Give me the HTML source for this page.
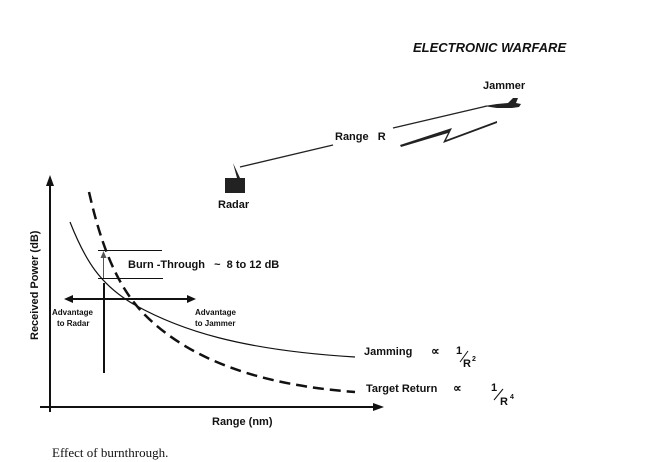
<!DOCTYPE html>
<html><head><style>
body{margin:0;background:#fff;width:645px;height:462px;overflow:hidden}
svg{position:absolute;left:0;top:0}
text{font-family:"Liberation Sans",sans-serif;font-weight:bold;fill:#111;white-space:pre}
</style></head><body>
<svg width="645" height="462" viewBox="0 0 645 462" xml:space="preserve">
<text x="413" y="52" font-size="13" font-style="italic">ELECTRONIC WARFARE</text>
<text x="483" y="89" font-size="11">Jammer</text>
<text x="335" y="140" font-size="11">Range   R</text>
<text x="218" y="208" font-size="11">Radar</text>
<rect x="225" y="178" width="20" height="15" fill="#222"/>
<polygon points="233,163 237,178 240,178" fill="#222"/>
<line x1="240" y1="167" x2="333" y2="145" stroke="#222" stroke-width="1.3"/>
<line x1="393" y1="128" x2="487" y2="106" stroke="#222" stroke-width="1.3"/>
<polygon points="484,106 497,104 508,103 513,98 518,98 516,103 521,104 519,107 512,108 497,108 490,107" fill="#222"/>
<polygon points="400,145 452,128 446,140 497,121 497,123 443,143 448,133 401,147" fill="#222"/>
<line x1="50" y1="412" x2="50" y2="182" stroke="#111" stroke-width="2"/>
<polygon points="50,175 46,186 54,186" fill="#111"/>
<line x1="40" y1="407" x2="376" y2="407" stroke="#111" stroke-width="2"/>
<polygon points="384,407 373,403 373,411" fill="#111"/>
<text x="0" y="0" font-size="11" transform="translate(38,340) rotate(-90)">Received Power (dB)</text>
<text x="212" y="425" font-size="11">Range (nm)</text>
<path d="M70,222 C85,260 100,285 135,305 C180,330 240,350 355,357" fill="none" stroke="#111" stroke-width="1.2"/>
<path d="M89,192 C100,240 115,285 145,315 C190,360 260,385 355,392" fill="none" stroke="#111" stroke-width="2.5" stroke-dasharray="11,6"/>
<line x1="98" y1="250.5" x2="162" y2="250.5" stroke="#111" stroke-width="1"/>
<line x1="98" y1="278.5" x2="163" y2="278.5" stroke="#111" stroke-width="1"/>
<line x1="103.5" y1="278" x2="103.5" y2="255" stroke="#555" stroke-width="1"/>
<polygon points="103.5,251 100.5,258 106.5,258" fill="#555"/>
<line x1="104" y1="283" x2="104" y2="373" stroke="#111" stroke-width="2"/>
<line x1="70" y1="299" x2="190" y2="299" stroke="#111" stroke-width="2"/>
<polygon points="64,299 73,295 73,303" fill="#111"/>
<polygon points="196,299 187,295 187,303" fill="#111"/>
<text x="128" y="268" font-size="11">Burn -Through   ~  8 to 12 dB</text>
<text x="52" y="315" font-size="8">Advantage</text>
<text x="57" y="326" font-size="8">to Radar</text>
<text x="195" y="315" font-size="8">Advantage</text>
<text x="195" y="326" font-size="8">to Jammer</text>
<text x="364" y="355" font-size="11">Jamming</text>
<text x="431" y="355" font-size="12" font-weight="normal">∝</text>
<text x="456" y="354" font-size="11">1</text>
<line x1="460" y1="362" x2="468" y2="351" stroke="#111"/>
<text x="463" y="367" font-size="11">R</text><text x="472" y="361" font-size="7">2</text>
<text x="366" y="392" font-size="11">Target Return</text>
<text x="453" y="392" font-size="12" font-weight="normal">∝</text>
<text x="491" y="391" font-size="11">1</text>
<line x1="494" y1="400" x2="503" y2="389" stroke="#111"/>
<text x="500" y="405" font-size="11">R</text><text x="510" y="399" font-size="7">4</text>
<text x="52" y="457" font-size="13" style="font-family:'Liberation Serif',serif;font-weight:normal">Effect of burnthrough.</text>
</svg>
</body></html>
